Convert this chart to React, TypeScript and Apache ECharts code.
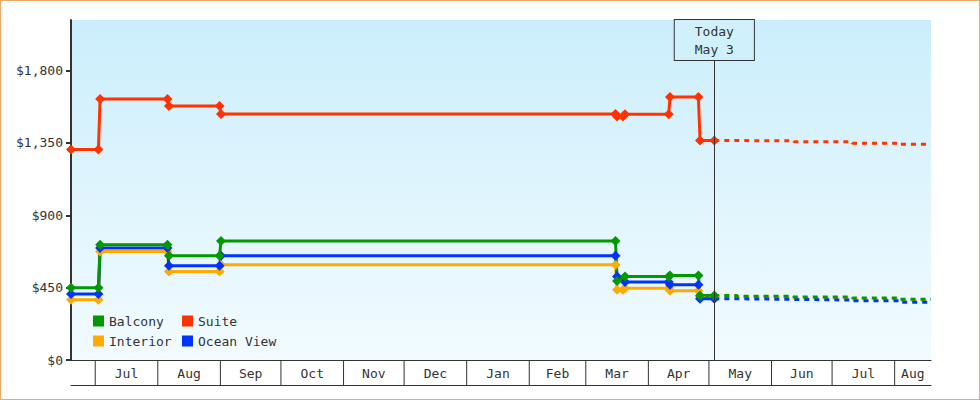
import React, { useEffect, useRef } from "react";
import * as echarts from "echarts";

const FONT = "'DejaVu Sans Mono', monospace";

// x range and today marker
const xStart = "2024-06-19";
const xEnd = "2025-08-19";
const today = "2025-05-03 16:00";
const todayLabel = ["Today", "May 3"];

// bottom band: month boundaries and names
const monthStarts = [
  "2024-07-01", "2024-08-01", "2024-09-01", "2024-10-01", "2024-11-01",
  "2024-12-01", "2025-01-01", "2025-02-01", "2025-03-01", "2025-04-01",
  "2025-05-01", "2025-06-01", "2025-07-01", "2025-08-01",
];
const monthLabels = ["Jul", "Aug", "Sep", "Oct", "Nov", "Dec", "Jan", "Feb", "Mar", "Apr", "May", "Jun", "Jul", "Aug"];

const priceTicks = [0, 450, 900, 1350, 1800];
const priceMax = 2115;

// price history (points where the price changed)
const historyDates = [
  "2024-06-19", "2024-07-02 14:00", "2024-07-03 10:00", "2024-08-05 19:00",
  "2024-08-06 12:00", "2024-08-31 14:00", "2024-09-01 07:00", "2025-03-15 17:00",
  "2025-03-16 12:00", "2025-03-19 10:00", "2025-03-20 10:00", "2025-04-11 02:00",
  "2025-04-11 17:00", "2025-04-25 19:00", "2025-04-26 14:00", "2025-05-03 16:00",
];
const suiteHistory = [1310, 1310, 1624, 1624, 1580, 1580, 1531, 1531, 1515, 1515, 1529, 1529, 1636, 1636, 1365, 1365];
const balconyHistory = [450, 450, 717, 717, 648, 648, 741, 741, 491, null, 520, 520, 526, 526, 402, 402];
const oceanHistory = [410, 410, 696, 696, 586, 586, 648, 648, 520, null, 485, 485, 468, 468, 381, 381];
const interiorHistory = [375, 375, 675, 675, 551, 551, 592, 592, 437, 437, 447, 447, 431, 431, 395, 395];

// forecast after today
const forecastDates = ["2025-05-03 16:00", "2025-05-15", "2025-06-12", "2025-07-11", "2025-08-03", "2025-08-19"];
const suiteForecast = [1365, 1363, 1357, 1349, 1342, 1342];
const balconyForecast = [402, 397, 392, 386, 378, 378];
const oceanForecast = [381, 377, 373, 368, 360, 360];
const interiorForecast = [395, 391, 386, 380, 372, 372];

const ts = (s: string) => +echarts.time.parse(s);

const pairs = (dates: string[], values: (number | null)[]) =>
  dates
    .map((d, i) => [ts(d), values[i]])
    .filter((p) => p[1] != null);

const App: React.FC = () => {
  const chartRef = useRef<HTMLDivElement>(null);

  useEffect(() => {
    const chart = echarts.init(chartRef.current, null, { renderer: "svg" });

    // one band cell per month: [start, end, 0, label index]
    const starts = monthStarts.map(ts);
    const ends = starts.slice(1).concat([ts(xEnd)]);
    const monthCells = starts.map((t, i) => [t, ends[i], 0, i]);

    const history = (name: string, color: string, values: (number | null)[], extra = {}) => ({
      name,
      type: "line",
      data: pairs(historyDates, values),
      symbol: "diamond",
      symbolSize: 10,
      showSymbol: true,
      lineStyle: { color, width: 3 },
      itemStyle: { color, borderWidth: 0 },
      emphasis: { disabled: true },
      ...extra,
    });
    const forecast = (name: string, color: string, values: number[]) => ({
      name,
      type: "line",
      step: "end",
      data: pairs(forecastDates, values),
      showSymbol: false,
      symbol: "none",
      lineStyle: { color, width: 3, type: [5, 5] },
      itemStyle: { color },
      emphasis: { disabled: true },
    });

    const legendBase = {
      orient: "vertical",
      top: 310,
      padding: 0,
      itemGap: 0,
      itemWidth: 11,
      itemHeight: 11,
      icon: "rect",
      selectedMode: false,
      textStyle: { fontFamily: FONT, fontSize: 13, color: "#333", lineHeight: 20 },
    };

    const option: any = {
      animation: false,
      textStyle: { fontFamily: FONT },
      grid: {
        left: 70,
        top: 19,
        right: 48,
        bottom: 39,
        show: true,
        borderWidth: 0,
        outerBoundsMode: "none",
        backgroundColor: {
          type: "linear",
          x: 0, y: 0, x2: 0, y2: 1,
          colorStops: [
            { offset: 0, color: "#cbeefc" },
            { offset: 1, color: "#f2fbff" },
          ],
        },
      },
      legend: [
        { ...legendBase, left: 92, data: ["Balcony", "Interior"] },
        { ...legendBase, left: 181, data: ["Suite", "Ocean View"] },
      ],
      xAxis: [
        {
          type: "time",
          min: ts(xStart),
          max: ts(xEnd),
          axisLine: { show: true, lineStyle: { color: "#333", width: 1 } },
          axisTick: { show: false },
          axisLabel: { show: false },
          splitLine: { show: false },
        },
        {
          type: "time",
          min: ts(xStart),
          max: ts(xEnd),
          position: "bottom",
          offset: 25,
          axisLine: { show: true, lineStyle: { color: "#333", width: 1 } },
          axisTick: { show: false },
          axisLabel: { show: false },
          splitLine: { show: false },
        },
      ],
      yAxis: {
        type: "value",
        min: 0,
        max: priceMax,
        axisLine: { show: true, lineStyle: { color: "#333", width: 2 } },
        axisTick: { show: true, customValues: priceTicks, length: 5, lineStyle: { color: "#333", width: 2 } },
        axisLabel: {
          customValues: priceTicks,
          margin: 8,
          color: "#333",
          fontFamily: FONT,
          fontSize: 13,
          formatter: (v: number) => "$" + v.toLocaleString("en-US"),
        },
        splitLine: { show: false },
      },
      series: [
        history("Interior", "#ffaa00", interiorHistory),
        forecast("Interior", "#ffaa00", interiorForecast),
        history("Ocean View", "#0033ff", oceanHistory),
        forecast("Ocean View", "#0033ff", oceanForecast),
        history("Suite", "#ff3300", suiteHistory),
        forecast("Suite", "#ff3300", suiteForecast),
        history("Balcony", "#009900", balconyHistory, {
          markLine: {
            silent: true,
            symbol: ["none", "none"],
            lineStyle: { color: "#333", width: 1, type: "solid" },
            label: {
              show: true,
              position: "end",
              distance: [0, -40],
              formatter: todayLabel.join("\n"),
              color: "#333",
              fontFamily: FONT,
              fontSize: 13,
              lineHeight: 18,
              backgroundColor: "#d0f0fc",
              borderColor: "#333",
              borderWidth: 1,
              padding: [2, 20],
            },
            data: [{ xAxis: ts(today) }],
          },
        }),
        forecast("Balcony", "#009900", balconyForecast),
        {
          // month band under the x axis
          type: "custom",
          silent: true,
          clip: false,
          dimensions: [
            { name: "start", type: "time" },
            { name: "end", type: "time" },
            "y",
            "idx",
          ],
          encode: { x: [0, 1], y: 2 },
          data: monthCells,
          renderItem: (params: any, api: any) => {
            const p0 = api.coord([api.value(0), 0]);
            const p1 = api.coord([api.value(1), 0]);
            return {
              type: "group",
              children: [
                {
                  type: "line",
                  shape: { x1: p0[0], y1: p0[1], x2: p0[0], y2: p0[1] + 25 },
                  style: { stroke: "#333", lineWidth: 1 },
                },
                {
                  type: "text",
                  x: (p0[0] + p1[0]) / 2,
                  y: p0[1] + 13,
                  style: {
                    text: monthLabels[api.value(3)],
                    textAlign: "center",
                    textVerticalAlign: "middle",
                    fill: "#333",
                    font: "13px " + FONT,
                  },
                },
              ],
            };
          },
        },
      ],
    };

    chart.setOption(option);
    return () => {
      chart.dispose();
    };
  }, []);

  return (
    <div
      style={{
        position: "fixed",
        left: 0,
        top: 0,
        width: 980,
        height: 400,
        boxSizing: "border-box",
        border: "1px solid #e8aa66",
        background: "#fff",
      }}
    >
      <div ref={chartRef} style={{ width: 978, height: 398 }} />
    </div>
  );
};

export default App;
